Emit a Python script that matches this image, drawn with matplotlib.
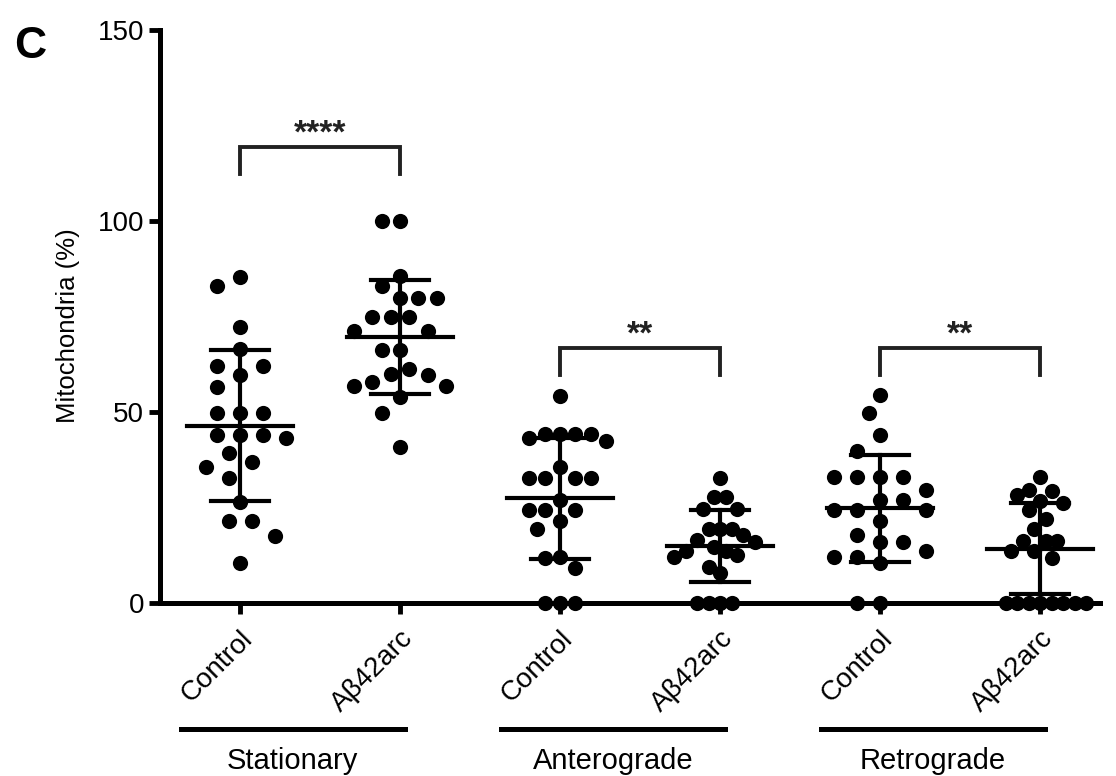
import numpy as np
import matplotlib.pyplot as plt
from matplotlib.transforms import blended_transform_factory

plt.rcParams['font.family'] = ['Liberation Sans', 'DejaVu Sans']

# mitochondria per axon (%), one list per group
stat_ctrl = [85.4, 83.1, 72.3, 66.4, 62.0, 62.0, 59.7, 56.6, 49.7, 49.7, 49.7,
             44.0, 43.1, 44.0, 44.0, 39.4, 37.0, 35.7, 32.6, 26.5, 21.5, 21.5,
             17.5, 10.5]
stat_abeta = [100, 100, 85.6, 83.0, 79.8, 79.8, 79.8, 74.8, 74.8, 74.8, 71.3,
              71.3, 66.2, 66.2, 61.2, 59.7, 59.9, 56.8, 56.8, 57.9, 54.0, 49.7,
              40.9]
ante_ctrl = [54.2, 44.2, 44.2, 42.5, 43.1, 44.2, 44.2, 35.7, 32.8, 32.8, 32.8,
             32.8, 27.0, 24.3, 24.3, 24.3, 21.5, 19.3, 12.0, 11.7, 9.1, 0, 0, 0]
ante_abeta = [32.6, 27.8, 27.8, 24.5, 24.5, 19.5, 19.5, 19.5, 17.8, 16.5, 14.7,
              13.6, 16.0, 13.6, 12.6, 12.1, 9.5, 7.8, 0, 0, 0, 0]
retro_ctrl = [54.5, 49.7, 44.0, 39.8, 32.9, 32.9, 32.9, 32.9, 29.6, 27.0, 27.0,
              24.3, 24.3, 24.3, 21.5, 17.8, 16.0, 16.0, 13.6, 12.1, 12.0, 10.4,
              0, 0]
retro_abeta = [32.9, 29.6, 29.4, 28.3, 26.8, 26.1, 24.3, 22.1, 19.5, 16.3, 16.3,
               16.3, 13.7, 13.7, 11.7, 0, 0, 0, 0, 0, 0, 0, 0]

groups = [stat_ctrl, stat_abeta, ante_ctrl, ante_abeta, retro_ctrl, retro_abeta]
tick_labels = ['Control', 'Aβ42arc'] * 3
conditions = ['Stationary', 'Anterograde', 'Retrograde']
stars = ['****', '**', '**']

# pixel scale of the axes (used for laying out the swarm)
PX_X = 160.0   # px per x unit
PX_Y = 3.82    # px per y unit
ROW_H = 20.0   # vertical reach of a dot when looking for a free slot (px)
HALF_W = 46.0  # max half width of a swarm (px)


def swarm(vals):
    """beeswarm on a half-slot grid, scaled so each group has the same width"""
    order = np.argsort(vals)[::-1]
    placed = []
    slots = np.zeros(len(vals))
    for n, i in enumerate(order):
        y = vals[i] * PX_Y
        found = None
        for k in range(0, 60):
            cands = [0] if k == 0 else ([k, -k] if n % 2 == 0 else [-k, k])
            for s in cands:
                if all((s - ps) ** 2 / 4.0 + (y - py) ** 2 / ROW_H ** 2 >= 1
                       for ps, py in placed):
                    found = s
                    break
            if found is not None:
                break
        placed.append((found, y))
        slots[i] = found
    widest = np.abs(slots).max()
    if widest == 0:
        return slots
    return slots * (HALF_W / widest) / PX_X


fig = plt.figure(figsize=(11.16, 7.76), dpi=100)
ax = fig.add_axes([0.1434, 0.2229, 0.8423, 0.7384])

xs = np.arange(len(groups))
for x, vals in zip(xs, groups):
    vals = np.array(vals, dtype=float)
    ax.scatter(x + swarm(vals), vals, s=120, color='black', zorder=3,
               clip_on=False, linewidths=0)
    m = vals.mean()
    sd = vals.std(ddof=1)
    ax.plot([x - 0.33, x + 0.33], [m, m], color='black', lw=3, zorder=4)
    ax.plot([x, x], [m - sd, m + sd], color='black', lw=3, zorder=4)
    for yy in (m - sd, m + sd):
        ax.plot([x - 0.18, x + 0.18], [yy, yy], color='black', lw=3, zorder=4)

# significance brackets
br_y = [(112.3, 119.4), (59.7, 66.8), (59.7, 66.8)]
for j, (lo, hi) in enumerate(br_y):
    a, b = xs[2 * j], xs[2 * j + 1]
    ax.plot([a, a, b, b], [lo, hi, hi, lo], color='#222222', lw=2.8,
            solid_joinstyle='miter')
    ax.text((a + b) / 2, hi - 0.6, stars[j], ha='center', va='bottom',
            fontsize=24, fontweight='bold', color='#222222')

ax.set_xlim(-0.5, 5.375)
ax.set_ylim(0, 150)
ax.set_yticks([0, 50, 100, 150])
ax.set_xticks(xs)
ax.set_xticklabels(tick_labels, rotation=45, ha='right',
                   rotation_mode='anchor', fontsize=20)
ax.tick_params(axis='both', width=3.5, length=8, labelsize=20)
ax.tick_params(axis='x', pad=8)
ax.set_ylabel('Mitochondria (%)', fontsize=18.5)
ax.yaxis.set_label_coords(-0.085, 0.485)

for side in ('top', 'right'):
    ax.spines[side].set_visible(False)
for side in ('left', 'bottom'):
    ax.spines[side].set_linewidth(3.6)

# condition underlines and names below the tick labels
trans = blended_transform_factory(ax.transData, ax.transAxes)
for j, name in enumerate(conditions):
    a = xs[2 * j] - 0.37
    b = xs[2 * j + 1] + 0.03
    ax.plot([a, b], [-0.22, -0.22], color='black', lw=3.6,
            transform=trans, clip_on=False)
    ax.text((a + b) / 2, -0.275, name, ha='center', va='center',
            fontsize=21, transform=trans)

fig.text(0.027, 0.94, 'C', fontsize=32, fontweight='bold',
         ha='center', va='center')

fig.savefig('out.png', dpi=100)
